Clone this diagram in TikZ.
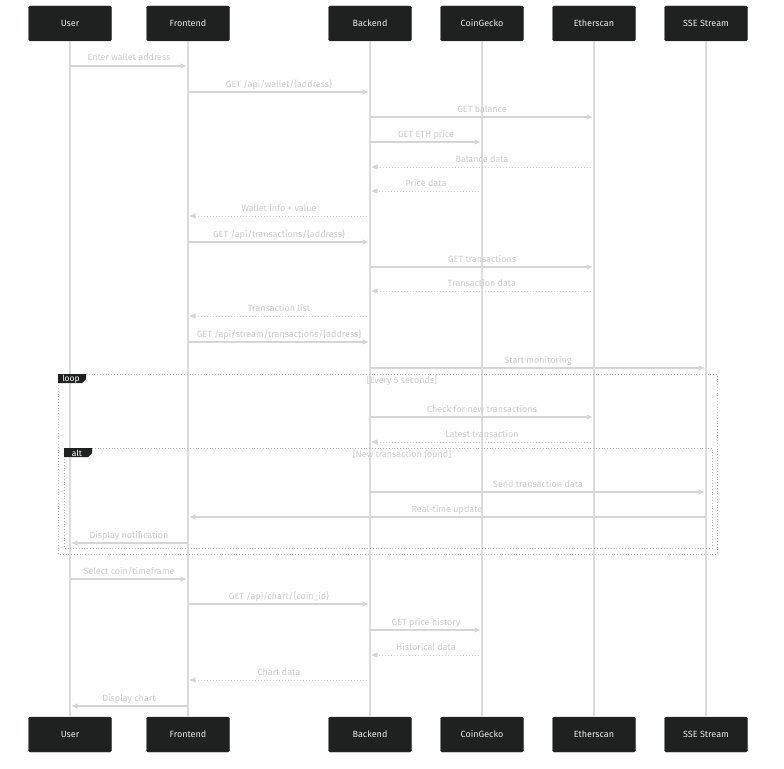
\documentclass[tikz,border=0pt]{standalone}
\usepackage{fontspec}
\setmainfont{Fira Sans}
\usetikzlibrary{arrows.meta,calc}
\definecolor{boxfill}{HTML}{1F2020}
\definecolor{boxline}{HTML}{3A3A3A}
\definecolor{lifec}{HTML}{DCDCDC}
\definecolor{msgc}{HTML}{D6D6D6}
\definecolor{txtc}{HTML}{CCCCCC}
\definecolor{framec}{HTML}{B8B8B8}
\definecolor{boxtxt}{HTML}{E8E8E8}
\tikzset{
  actor/.style={draw=boxline, fill=boxfill, rounded corners=1.5pt, minimum width=83pt, minimum height=35pt, text=boxtxt, font=\fontsize{9}{10}\selectfont, inner sep=0pt},
  life/.style={draw=lifec, line width=1.3pt},
  msgline/.style={draw=msgc, line width=1.1pt, -{Triangle[length=6pt,width=5pt]}, shorten >=1.5pt},
  reply/.style={msgline, line width=1pt, dash pattern=on 1.5pt off 1.5pt},
  msglabel/.style={text=txtc, font=\fontsize{9}{10}\selectfont, inner sep=0pt, anchor=base},
  frame/.style={draw=framec, line width=0.8pt, dotted},
  tab/.style={fill=boxfill, draw=none},
  tabtxt/.style={text=white, font=\fontsize{8.5}{10}\selectfont, inner sep=0pt},
  cond/.style={text=txtc, font=\fontsize{9}{10}\selectfont, inner sep=0pt, anchor=base}
}
\newcommand{\msg}[5]{%
  \draw[#5] (#1 |- 0,#3) -- (#2 |- 0,#3);
  \node[msglabel] at ($(#1 |- 0,#3)!0.5!(#2 |- 0,#3)+(0,-5)$) {#4};
}
\begin{document}
\begin{tikzpicture}[x=1pt,y=-1pt]
\useasboundingbox (0,0) rectangle (784,768);
% participants top
\node[actor] (Ut) at (70,23.5) {User};
\node[actor] (Ft) at (188,23.5) {Frontend};
\node[actor] (Bt) at (370,23.5) {Backend};
\node[actor] (Ct) at (482,23.5) {CoinGecko};
\node[actor] (Et) at (594,23.5) {Etherscan};
\node[actor] (St) at (706,23.5) {SSE Stream};
% participants bottom
\node[actor] (Ub) at (70,734.5) {User};
\node[actor] (Fb) at (188,734.5) {Frontend};
\node[actor] (Bb) at (370,734.5) {Backend};
\node[actor] (Cb) at (482,734.5) {CoinGecko};
\node[actor] (Eb) at (594,734.5) {Etherscan};
\node[actor] (Sb) at (706,734.5) {SSE Stream};
% lifelines
\foreach \a in {U,F,B,C,E,S}{
  \draw[life] (\a t.south) -- (\a b.north);
}
% frames
\draw[frame] (58,374) rectangle (717,554);
\fill[tab] (58,374) -- (86,374) -- (86,379) -- (82,383) -- (58,383) -- cycle;
\node[tabtxt] (looplbl) at (71,379) {loop};
\node[cond] (loopcond) at (402,383.5) {[Every 5 seconds]};
\draw[frame] (64,448) rectangle (712,548);
\fill[tab] (64,448) -- (92,448) -- (92,453) -- (88,457) -- (64,457) -- cycle;
\node[tabtxt] (altlbl) at (77,453) {alt};
\node[cond] (altcond) at (402,457.5) {[New transaction found]};
% messages
\msg{Ut}{Ft}{66}{Enter wallet address}{msgline}
\msg{Ft}{Bt}{92}{GET /api/wallet/\{address\}}{msgline}
\msg{Bt}{Et}{117}{GET balance}{msgline}
\msg{Bt}{Ct}{142}{GET ETH price}{msgline}
\msg{Et}{Bt}{167}{Balance data}{reply}
\msg{Ct}{Bt}{191}{Price data}{reply}
\msg{Bt}{Ft}{216}{Wallet info + value}{reply}
\msg{Ft}{Bt}{242}{GET /api/transactions/\{address\}}{msgline}
\msg{Bt}{Et}{267}{GET transactions}{msgline}
\msg{Et}{Bt}{291}{Transaction data}{reply}
\msg{Bt}{Ft}{316}{Transaction list}{reply}
\msg{Ft}{Bt}{342}{GET /api/stream/transactions/\{address\}}{msgline}
\msg{Bt}{St}{368}{Start monitoring}{msgline}
\msg{Bt}{Et}{417}{Check for new transactions}{msgline}
\msg{Et}{Bt}{442}{Latest transaction}{reply}
\msg{Bt}{St}{492}{Send transaction data}{msgline}
\msg{St}{Ft}{517}{Real-time update}{msgline}
\msg{Ft}{Ut}{543}{Display notification}{msgline}
\msg{Ut}{Ft}{579}{Select coin/timeframe}{msgline}
\msg{Ft}{Bt}{604}{GET /api/chart/\{coin\_id\}}{msgline}
\msg{Bt}{Ct}{630}{GET price history}{msgline}
\msg{Ct}{Bt}{655}{Historical data}{reply}
\msg{Bt}{Ft}{680}{Chart data}{reply}
\msg{Ft}{Ut}{706}{Display chart}{msgline}
\end{tikzpicture}
\end{document}
